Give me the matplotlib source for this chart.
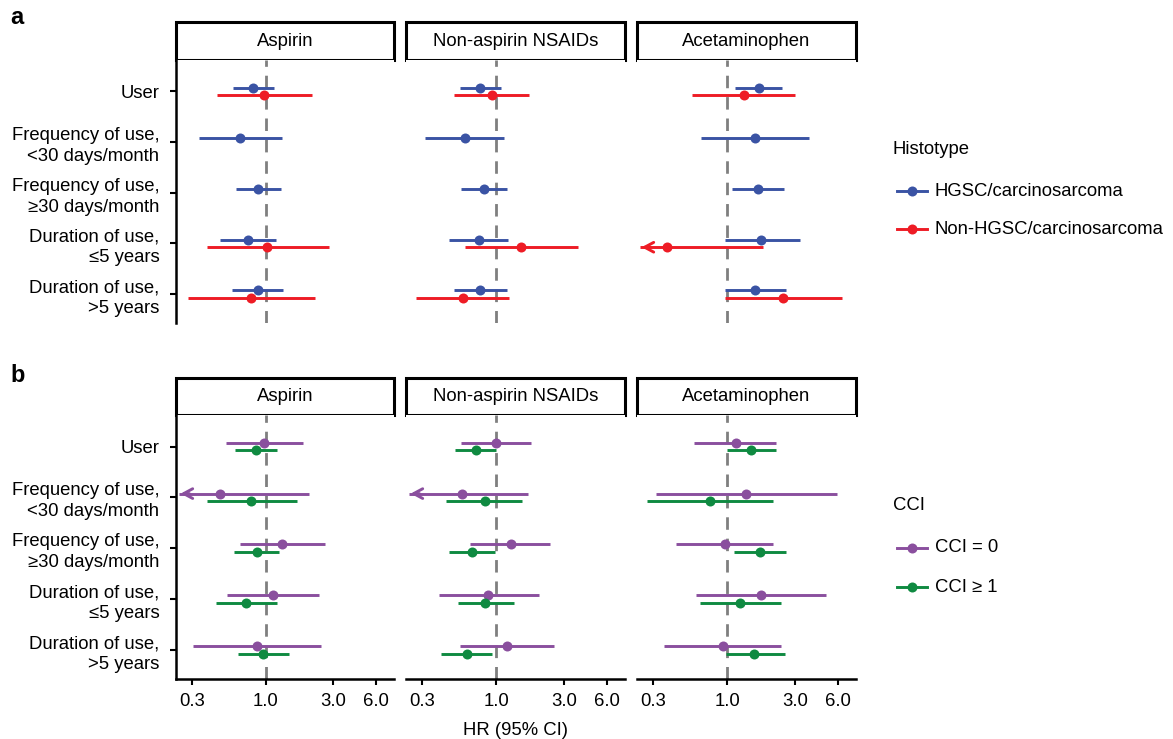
import numpy as np
import matplotlib
matplotlib.use("Agg")
import matplotlib.pyplot as plt
from matplotlib.lines import Line2D
from matplotlib.patches import Rectangle

plt.rcParams['font.family'] = ['Liberation Sans', 'DejaVu Sans']

nan = np.nan
rows = ["User", "Frequency of use,\n<30 days/month", "Frequency of use,\n\u226530 days/month",
        "Duration of use,\n\u22645 years", "Duration of use,\n>5 years"]
drugs = ["Aspirin", "Non-aspirin NSAIDs", "Acetaminophen"]
xticks = [0.3, 1.0, 3.0, 6.0]
xticklabels = ["0.3", "1.0", "3.0", "6.0"]

# Panel a: histotype
hgsc_hr = {"Aspirin": [0.805, 0.657, 0.877, 0.75, 0.877],
           "Non-aspirin NSAIDs": [0.77, 0.596, 0.822, 0.749, 0.77],
           "Acetaminophen": [1.68, 1.56, 1.64, 1.74, 1.56]}
hgsc_lo = {"Aspirin": [0.586, 0.333, 0.616, 0.472, 0.571],
           "Non-aspirin NSAIDs": [0.556, 0.315, 0.565, 0.464, 0.506],
           "Acetaminophen": [1.13, 0.654, 1.08, 0.958, 0.958]}
hgsc_hi = {"Aspirin": [1.14, 1.29, 1.27, 1.17, 1.33],
           "Non-aspirin NSAIDs": [1.08, 1.13, 1.18, 1.20, 1.18],
           "Acetaminophen": [2.45, 3.75, 2.51, 3.24, 2.58]}
non_hr = {"Aspirin": [0.97, nan, nan, 1.01, 0.783],
          "Non-aspirin NSAIDs": [0.93, nan, nan, 1.50, 0.577],
          "Acetaminophen": [1.31, nan, nan, 0.373, 2.47]}
non_lo = {"Aspirin": [0.452, nan, nan, 0.384, 0.281],
          "Non-aspirin NSAIDs": [0.504, nan, nan, 0.603, 0.271],
          "Acetaminophen": [0.565, nan, nan, 0.12, 0.958]}
non_hi = {"Aspirin": [2.12, nan, nan, 2.80, 2.23],
          "Non-aspirin NSAIDs": [1.71, nan, nan, 3.75, 1.22],
          "Acetaminophen": [3.02, nan, nan, 1.79, 6.43]}

# Panel b: CCI
cci0_hr = {"Aspirin": [0.973, 0.472, 1.31, 1.12, 0.859],
           "Non-aspirin NSAIDs": [1.0, 0.574, 1.26, 0.878, 1.19],
           "Acetaminophen": [1.15, 1.36, 0.957, 1.73, 0.927]}
cci0_lo = {"Aspirin": [0.52, 0.15, 0.654, 0.532, 0.302],
           "Non-aspirin NSAIDs": [0.562, 0.15, 0.65, 0.394, 0.553],
           "Acetaminophen": [0.577, 0.315, 0.435, 0.596, 0.356]}
cci0_hi = {"Aspirin": [1.83, 2.02, 2.62, 2.38, 2.44],
           "Non-aspirin NSAIDs": [1.76, 1.66, 2.40, 2.0, 2.56],
           "Acetaminophen": [2.21, 5.99, 2.11, 4.95, 2.41]}
cci1_hr = {"Aspirin": [0.849, 0.787, 0.859, 0.722, 0.957],
           "Non-aspirin NSAIDs": [0.722, 0.831, 0.672, 0.836, 0.616],
           "Acetaminophen": [1.48, 0.757, 1.70, 1.22, 1.55]}
cci1_lo = {"Aspirin": [0.603, 0.382, 0.593, 0.442, 0.637],
           "Non-aspirin NSAIDs": [0.509, 0.44, 0.464, 0.538, 0.405],
           "Acetaminophen": [1.0, 0.272, 1.11, 0.636, 0.983]}
cci1_hi = {"Aspirin": [1.20, 1.66, 1.24, 1.20, 1.45],
           "Non-aspirin NSAIDs": [1.0, 1.51, 0.978, 1.33, 0.937],
           "Acetaminophen": [2.21, 2.11, 2.61, 2.38, 2.54]}

C_BLUE = "#3A53A4"
C_RED = "#EE1C25"
C_PURPLE = "#8A4F9E"
C_GREEN = "#0F8A41"

W, H = 1173, 739
fig = plt.figure(figsize=(W / 100, H / 100), dpi=100)

XLIM = (0.23, 8.1)
facet_x = [(176, 394), (406, 625), (637, 856)]
FS = 13.3


def fx(px):
    return px / W


def fy(py):
    return 1 - py / H


def draw_series(ax, hr, lo, hi, yoff, color):
    ys = np.arange(len(rows))[::-1] + 1 + yoff
    for y, h, l, u in zip(ys, hr, lo, hi):
        if np.isnan(h):
            continue
        if l < XLIM[0]:
            ax.plot([XLIM[0] * 1.05, u], [y, y], color=color, lw=2.1, solid_capstyle='butt', zorder=3)
            ax.annotate("", xy=(XLIM[0] * 1.03, y), xytext=(XLIM[0] * 1.3, y),
                        arrowprops=dict(arrowstyle="->,head_length=0.65,head_width=0.35",
                                        color=color, lw=2.1), zorder=3)
        else:
            ax.plot([l, u], [y, y], color=color, lw=2.1, solid_capstyle='butt', zorder=3)
        ax.plot([h], [y], 'o', color=color, ms=7.2, mec='none', zorder=4)


def make_panel(top_strip, top_ax, bot_ax, s1, s2, colors, show_x):
    axes = []
    for j, (drug, (x0, x1)) in enumerate(zip(drugs, facet_x)):
        # strip
        sax = fig.add_axes([fx(x0), fy(top_ax), fx(x1 - x0), (top_ax - top_strip) / H])
        sax.set_xlim(0, 1); sax.set_ylim(0, 1)
        sax.axis('off')
        sax.add_patch(Rectangle((0, 0), 1, 1, fill=False, lw=2.2, ec='black',
                                transform=sax.transAxes, clip_on=False))
        sax.text(0.5, 0.5, drug, ha='center', va='center', fontsize=FS)

        ax = fig.add_axes([fx(x0), fy(bot_ax), fx(x1 - x0), (bot_ax - top_ax) / H])
        ax.set_xscale('log')
        ax.set_xlim(*XLIM)
        ax.set_ylim(0.43, 5.62)
        ax.axvline(1.0, color='#7f7f7f', lw=2.0, ls=(0, (4.5, 3.2)), zorder=1)
        for sp in ['top', 'right']:
            ax.spines[sp].set_visible(False)
        ax.spines['left'].set_visible(j == 0)
        ax.spines['bottom'].set_visible(show_x)
        for sp in ax.spines.values():
            sp.set_linewidth(1.8)
        ax.minorticks_off()
        if show_x:
            ax.set_xticks(xticks)
            ax.set_xticklabels(xticklabels, fontsize=FS)
            ax.tick_params(axis='x', length=4, width=1.5, pad=6)
        else:
            ax.set_xticks([])
        if j == 0:
            ax.set_yticks(np.arange(len(rows))[::-1] + 1)
            ax.set_yticklabels(rows, fontsize=FS, linespacing=1.3)
            ax.tick_params(axis='y', length=4, width=1.5, pad=8)
        else:
            ax.set_yticks([])
        (h1, l1, u1), (h2, l2, u2) = s1, s2
        draw_series(ax, h1[drug], l1[drug], u1[drug], 0.075, colors[0])
        draw_series(ax, h2[drug], l2[drug], u2[drug], -0.075, colors[1])
        axes.append(ax)
    return axes


axes_a = make_panel(22, 60, 323, (hgsc_hr, hgsc_lo, hgsc_hi), (non_hr, non_lo, non_hi),
                    (C_BLUE, C_RED), False)
axes_b = make_panel(378, 415, 679, (cci0_hr, cci0_lo, cci0_hi), (cci1_hr, cci1_lo, cci1_hi),
                    (C_PURPLE, C_GREEN), True)
axes_b[1].set_xlabel("HR (95% CI)", fontsize=FS, labelpad=9)

fig.text(fx(10), fy(17), "a", fontsize=17, fontweight='bold', va='center', ha='left')
fig.text(fx(10), fy(375), "b", fontsize=17, fontweight='bold', va='center', ha='left')


def legend_block(title, labels, colors, ty, ys):
    fig.text(fx(893), fy(ty), title, fontsize=FS, va='center', ha='left')
    for lab, col, yy in zip(labels, colors, ys):
        fig.add_artist(Line2D([fx(897), fx(927)], [fy(yy), fy(yy)], color=col, lw=2.1,
                              transform=fig.transFigure))
        fig.add_artist(Line2D([fx(912)], [fy(yy)], marker='o', ms=7.2, color=col, mec='none',
                              transform=fig.transFigure))
        fig.text(fx(935), fy(yy), lab, fontsize=FS, va='center', ha='left')


legend_block("Histotype", ["HGSC/carcinosarcoma", "Non-HGSC/carcinosarcoma"],
             [C_BLUE, C_RED], 150, [191, 229])
legend_block("CCI", ["CCI = 0", "CCI \u2265 1"], [C_PURPLE, C_GREEN], 506, [548, 587])

fig.savefig("out.png", dpi=100)
